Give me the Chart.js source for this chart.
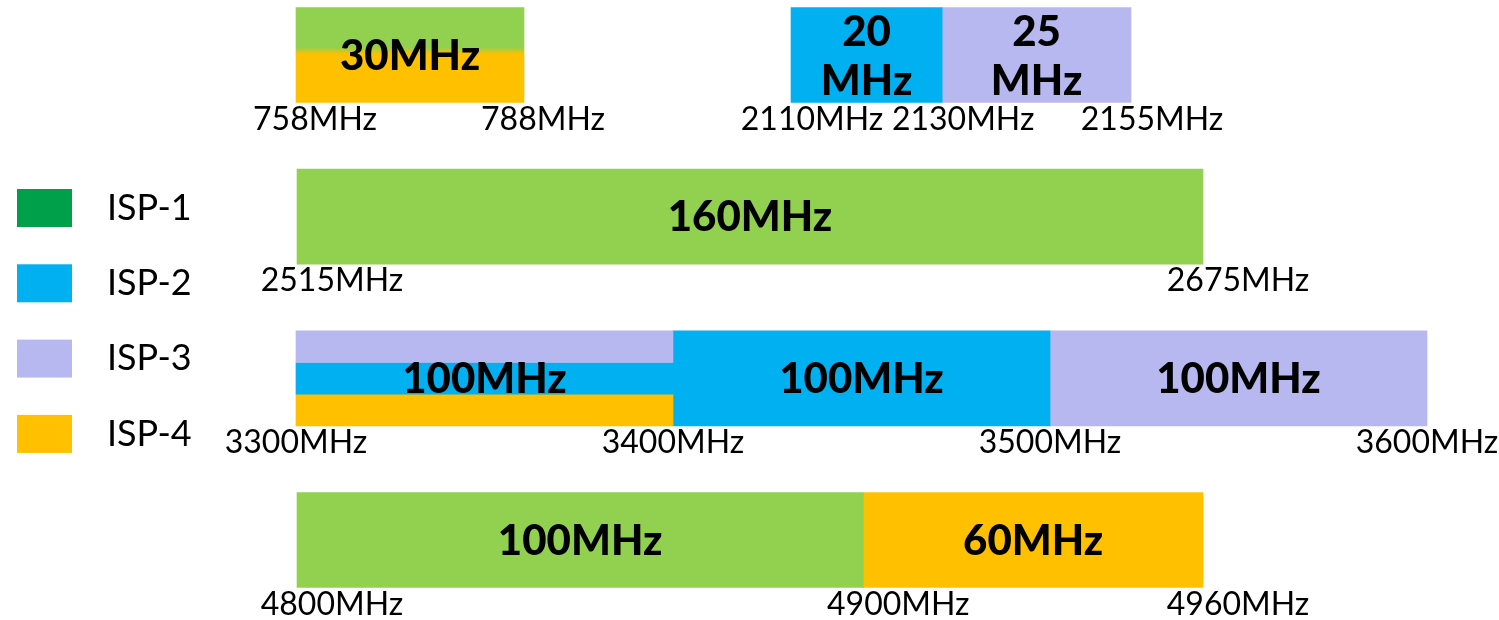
<!DOCTYPE html>
<html>
<head>
<meta charset="utf-8">
<script src="https://cdn.jsdelivr.net/npm/chart.js@4.4.1/dist/chart.umd.min.js"></script>
<style>
  html, body { margin: 0; padding: 0; background: #ffffff; }
  #wrap { position: relative; width: 1499px; height: 620px; }
</style>
</head>
<body>
<div id="wrap"><canvas id="chart" width="1499" height="620"></canvas></div>
<script>
// Spectrum rows, drawn top to bottom
const rows = ['700/2100', '2600', '3500', '4900'];

// Band edges printed under each band (MHz)
const edges700  = [758, 788];
const edges2100 = [2110, 2130, 2155];
const edges2600 = [2515, 2675];
const edges3500 = [3300, 3400, 3500, 3600];
const edges4900 = [4800, 4900, 4960];

// Operators
const isps = ['ISP-1', 'ISP-2', 'ISP-3', 'ISP-4'];

// Allocations, one entry per operator block
const blockIsp   = ['ISP-1', 'ISP-4', 'ISP-2', 'ISP-3', 'ISP-1', 'ISP-3', 'ISP-2', 'ISP-4', 'ISP-2', 'ISP-3', 'ISP-1', 'ISP-4'];
const blockBand  = ['700', '700', '2100', '2100', '2600', '3500', '3500', '3500', '3500', '3500', '4900', '4900'];
const blockRow   = ['700/2100', '700/2100', '700/2100', '700/2100', '2600', '3500', '3500', '3500', '3500', '3500', '4900', '4900'];
const blockStart = [758, 758, 2110, 2130, 2515, 3300, 3300, 3300, 3400, 3500, 4800, 4900];
const blockEnd   = [788, 788, 2130, 2155, 2675, 3400, 3400, 3400, 3500, 3600, 4900, 4960];

// ---- styling ----
const BAR_COLORS    = { 'ISP-1': '#92D050', 'ISP-2': '#00B0F0', 'ISP-3': '#B8B8F0', 'ISP-4': '#FFC000' };
const LEGEND_COLORS = { 'ISP-1': '#00A04A', 'ISP-2': '#00B0F0', 'ISP-3': '#B8B8F0', 'ISP-4': '#FFC000' };
const BAR_THICKNESS = 95;
const SOFT_EDGE_BANDS = ['700'];   // shared blocks whose colours fade into each other

// Each band is drawn on its own frequency axis (the diagram is not to scale)
const bandAxes = {
  '700':  { row: '700/2100', min: 719.05,  max: 916.29,  edges: edges700,  labelOffset: 19 },
  '2100': { row: '700/2100', min: 2005.31, max: 2203.70, edges: edges2100, labelOffset: 21 },
  '2600': { row: '2600',     min: 2462.55, max: 2727.27, edges: edges2600, labelOffset: 35 },
  '3500': { row: '3500',     min: 3221.49, max: 3619.10, edges: edges3500, labelOffset: 0 },
  '4900': { row: '4900',     min: 4747.55, max: 5012.27, edges: edges4900, labelOffset: 35 }
};

Chart.defaults.font.family = 'Lato, "Open Sans", sans-serif';
Chart.defaults.color = '#000000';

// Blocks covering the same range of the same band are shared between operators
const groupKey = i => blockBand[i] + ':' + blockStart[i] + '-' + blockEnd[i];
const groupSize = {};
blockIsp.forEach((_, i) => { const k = groupKey(i); groupSize[k] = (groupSize[k] || 0) + 1; });

// Vertical fade between the two operators sharing a block
function softFill(key) {
  const members = blockIsp.map((_, i) => i).filter(i => groupKey(i) === key);
  const cols = members.map(i => BAR_COLORS[blockIsp[i]]);
  const rowIndex = rows.indexOf(blockRow[members[0]]);
  return (ctx) => {
    const chart = ctx.chart;
    if (!chart.chartArea) return cols[0];
    const c = chart.scales.y.getPixelForValue(rowIndex);
    const top = c - BAR_THICKNESS / 2;
    const g = chart.ctx.createLinearGradient(0, top, 0, top + BAR_THICKNESS);
    g.addColorStop(0, cols[0]);
    g.addColorStop(0.42, cols[0]);
    g.addColorStop(0.49, cols[cols.length - 1]);
    g.addColorStop(1, cols[cols.length - 1]);
    return g;
  };
}

const datasets = blockIsp.map((isp, i) => {
  const n = groupSize[groupKey(i)];
  const shared = n > 1;
  const ds = {
    label: isp,
    data: [{ x: [blockStart[i], blockEnd[i]], y: blockRow[i] }],
    xAxisID: 'x' + blockBand[i],
    yAxisID: 'y',
    backgroundColor: shared && SOFT_EDGE_BANDS.includes(blockBand[i]) ? softFill(groupKey(i)) : BAR_COLORS[isp],
    borderWidth: 0,
    borderSkipped: false,
    barThickness: BAR_THICKNESS / n,
    grouped: shared,
    skipNull: true,
    clip: false
  };
  if (shared) ds.stack = 'block' + i;
  return ds;
});

const scales = {
  y: { type: 'category', labels: rows, offset: false, display: false, grid: { display: false } }
};
Object.entries(bandAxes).forEach(([band, a]) => {
  scales['x' + band] = {
    type: 'linear',
    axis: 'x',
    position: { y: rows.indexOf(a.row) },
    min: a.min,
    max: a.max,
    grid: { display: false, drawTicks: false },
    border: { display: false },
    afterBuildTicks: (scale) => { scale.ticks = a.edges.map(v => ({ value: v })); },
    afterFit: (scale) => {
      scale.paddingLeft = 0; scale.paddingRight = 0;
      scale.paddingTop = 0; scale.paddingBottom = 0;
    },
    ticks: {
      autoSkip: false,
      maxRotation: 0,
      minRotation: 0,
      padding: 45,
      labelOffset: a.labelOffset,
      color: '#000000',
      font: { family: 'Lato', size: 32 },
      callback: (v) => v + 'MHz'
    }
  };
});

// Bandwidth written on each block (shared blocks get one label)
const spanLabels = {
  id: 'spanLabels',
  afterDatasetsDraw(chart, args, o) {
    const groups = new Map();
    chart.data.datasets.forEach((ds, di) => {
      const meta = chart.getDatasetMeta(di);
      meta.data.forEach((bar, j) => {
        const d = ds.data[j];
        const key = ds.xAxisID + ':' + d.x[0] + '-' + d.x[1];
        const p = bar.getProps(['x', 'y', 'base', 'height'], true);
        const top = p.y - p.height / 2, bottom = p.y + p.height / 2;
        const g = groups.get(key);
        if (g) {
          g.top = Math.min(g.top, top);
          g.bottom = Math.max(g.bottom, bottom);
        } else {
          groups.set(key, { mhz: d.x[1] - d.x[0], left: Math.min(p.x, p.base), right: Math.max(p.x, p.base), top, bottom });
        }
      });
    });
    const ctx = chart.ctx;
    ctx.save();
    ctx.font = o.weight + ' ' + o.size + 'px ' + o.family;
    ctx.fillStyle = o.color;
    ctx.textAlign = 'center';
    ctx.textBaseline = 'middle';
    groups.forEach(g => {
      const cx = (g.left + g.right) / 2, cy = (g.top + g.bottom) / 2 + o.shift;
      const text = g.mhz + 'MHz';
      if (ctx.measureText(text).width > o.wrapRatio * (g.right - g.left)) {
        ctx.fillText(String(g.mhz), cx, cy - o.lineGap / 2 + 1);
        ctx.fillText('MHz', cx, cy + o.lineGap / 2 + 1);
      } else {
        ctx.fillText(text, cx, cy);
      }
    });
    ctx.restore();
  }
};

// Operator key on the left
const sideLegend = {
  id: 'sideLegend',
  afterDraw(chart, args, o) {
    const ctx = chart.ctx;
    ctx.save();
    ctx.font = o.size + 'px ' + o.family;
    ctx.textAlign = 'left';
    ctx.textBaseline = 'middle';
    isps.forEach((name, i) => {
      const top = o.top + i * o.step;
      ctx.fillStyle = LEGEND_COLORS[name];
      ctx.fillRect(o.left, top, o.boxWidth, o.boxHeight);
      ctx.fillStyle = o.color;
      ctx.fillText(name, o.textLeft, top + o.boxHeight / 2);
    });
    ctx.restore();
  }
};

new Chart(document.getElementById('chart'), {
  type: 'bar',
  data: { datasets },
  options: {
    indexAxis: 'y',
    responsive: false,
    animation: false,
    events: [],
    layout: { padding: { top: 55, bottom: 80, left: 0, right: 0 } },
    scales,
    plugins: {
      legend: { display: false },
      tooltip: { enabled: false },
      spanLabels: { family: 'Lato', size: 42, weight: '900', color: '#000000', wrapRatio: 0.7, lineGap: 49, shift: 1 },
      sideLegend: { family: 'Lato', size: 36, color: '#000000', left: 17, top: 189, step: 75.3, boxWidth: 55, boxHeight: 38, textLeft: 107 }
    }
  },
  plugins: [spanLabels, sideLegend]
});
</script>
</body>
</html>
